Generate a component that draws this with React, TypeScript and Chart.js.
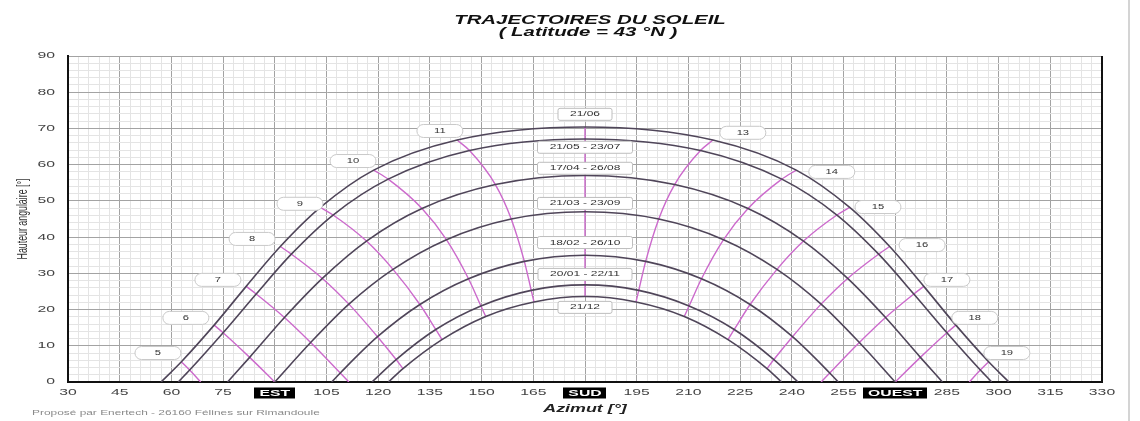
import { useEffect, useRef } from 'react';
import { Chart, registerables } from 'chart.js';

Chart.register(...registerables);

// Solar hours (true solar time) at which the sun positions are tabulated.
const HOURS = [5, 6, 7, 8, 9, 10, 11, 12, 13, 14, 15, 16, 17, 18, 19];

// Azimuth [°] and altitude [°] of the sun at each hour, one pair per date; null = below the horizon.
const AZ_0621 = [62.9, 72.4, 81.7, 91.6, 103.2, 118.7, 142.9, 180.0, 217.1, 241.3, 256.8, 268.4, 278.3, 287.6, 297.1];
const ALT_0621 = [5.6, 15.7, 26.4, 37.4, 48.2, 58.5, 66.8, 70.4, 66.8, 58.5, 48.2, 37.4, 26.4, 15.7, 5.6];

const AZ_0521 = [65.3, 75.0, 84.6, 94.8, 106.9, 122.9, 146.5, 180.0, 213.5, 237.1, 253.1, 265.2, 275.4, 285.0, 294.7];
const ALT_0521 = [3.3, 13.6, 24.3, 35.3, 46.1, 56.0, 63.9, 67.1, 63.9, 56.0, 46.1, 35.3, 24.3, 13.6, 3.3];

const AZ_0417 = [null, 82.7, 92.8, 103.8, 116.6, 132.7, 154.0, 180.0, 206.0, 227.3, 243.4, 256.2, 267.2, 277.3, null];
const ALT_0417 = [null, 6.8, 17.8, 28.6, 38.9, 47.9, 54.5, 57.0, 54.5, 47.9, 38.9, 28.6, 17.8, 6.8, null];

const AZ_0321 = [null, 90.0, 100.4, 111.5, 124.3, 139.8, 158.6, 180.0, 201.4, 220.2, 235.7, 248.5, 259.6, 270.0, null];
const ALT_0321 = [null, 0, 10.9, 21.5, 31.1, 39.3, 45.0, 47.0, 45.0, 39.3, 31.1, 21.5, 10.9, 0, null];

const AZ_0218 = [null, null, 109.0, 119.8, 132.1, 146.2, 162.4, 180.0, 197.6, 213.8, 227.9, 240.2, 251.0, null, null];
const ALT_0218 = [null, null, 2.5, 12.5, 21.4, 28.5, 33.3, 35.0, 33.3, 28.5, 21.4, 12.5, 2.5, null, null];

const AZ_0120 = [null, null, null, 125.2, 136.7, 149.8, 164.4, 180.0, 195.6, 210.2, 223.3, 234.8, null, null, null];
const ALT_0120 = [null, null, null, 6.2, 14.5, 21.0, 25.3, 26.8, 25.3, 21.0, 14.5, 6.2, null, null, null];

const AZ_1221 = [null, null, null, 127.2, 138.5, 151.2, 165.2, 180.0, 194.8, 208.8, 221.5, 232.8, null, null, null];
const ALT_1221 = [null, null, null, 3.7, 11.7, 18.1, 22.1, 23.6, 22.1, 18.1, 11.7, 3.7, null, null, null];

// Date captions of the seven day curves, with sunrise / sunset azimuths.
const DATE_LABELS = ['21/06', '21/05 - 23/07', '17/04 - 26/08', '21/03 - 23/09', '18/02 - 26/10', '20/01 - 22/11', '21/12'];
const RISE_AZ = [57.0, 62.0, 76.3, 90.0, 106.5, 118.2, 123.0];
const SET_AZ = [303.0, 298.0, 283.7, 270.0, 253.5, 241.8, 237.0];
const DATE_LABEL_ALT = [73.9, 64.8, 59.0, 49.3, 38.5, 29.7, 20.6];

// Azimuth where an hour line reaches the horizon below its last date curve.
const HOUR_FOOT_AZ = [68.5, null, 111.5, null, null, null, null, null, null, null, null, null, 248.5, null, 291.5];

// Hour captions and their anchor (azimuth, altitude).
const HOUR_LABELS = ['5', '6', '7', '8', '9', '10', '11', '13', '14', '15', '16', '17', '18', '19'];
const HOUR_LABEL_AZ = [56.1, 64.2, 73.5, 83.4, 97.3, 112.7, 137.9, 225.8, 251.6, 265.0, 277.8, 285.0, 293.1, 302.4];
const HOUR_LABEL_ALT = [8.0, 17.7, 28.2, 39.5, 49.2, 61.0, 69.3, 68.8, 58.0, 48.3, 37.8, 28.2, 17.7, 8.0];

// Axis tick labels.
const X_TICKS = [30, 45, 60, 75, 90, 105, 120, 135, 150, 165, 180, 195, 210, 225, 240, 255, 270, 285, 300, 315, 330];
const X_TICK_TEXT = ['30', '45', '60', '75', 'EST', '105', '120', '135', '150', '165', 'SUD', '195', '210', '225', '240', '255', 'OUEST', '285', '300', '315', '330'];
const COMPASS_TICKS = ['EST', 'SUD', 'OUEST'];
const Y_TICKS = [0, 10, 20, 30, 40, 50, 60, 70, 80, 90];

const AZ_ROWS = [AZ_0621, AZ_0521, AZ_0417, AZ_0321, AZ_0218, AZ_0120, AZ_1221];
const ALT_ROWS = [ALT_0621, ALT_0521, ALT_0417, ALT_0321, ALT_0218, ALT_0120, ALT_1221];

const CURVE_COLOR = '#4f4559';
const HOUR_COLOR = '#cc6acc';
const MAJOR_GRID = '#a3a3a3';
const MINOR_GRID = '#e4e4e4';
const FONT = '"Liberation Sans", Arial, sans-serif';
const STRETCH = 1.7;

type Pt = { x: number; y: number };

function dayCurve(d: number): Pt[] {
  const pts: Pt[] = [{ x: RISE_AZ[d], y: 0 }];
  AZ_ROWS[d].forEach((az, i) => {
    const alt = ALT_ROWS[d][i];
    if (az == null || alt == null) return;
    if (pts.some((p) => p.x === az)) return;
    pts.push({ x: az, y: alt });
  });
  if (!pts.some((p) => p.x === SET_AZ[d])) pts.push({ x: SET_AZ[d], y: 0 });
  return pts;
}

function hourLine(i: number): Pt[] {
  const pts: Pt[] = [];
  AZ_ROWS.forEach((row, d) => {
    const az = row[i];
    const alt = ALT_ROWS[d][i];
    if (az != null && alt != null) pts.push({ x: az, y: alt });
  });
  const foot = HOUR_FOOT_AZ[i];
  if (foot != null) pts.push({ x: foot, y: 0 });
  return pts.sort((a, b) => a.x - b.x);
}

function stretchedText(
  ctx: CanvasRenderingContext2D,
  text: string,
  x: number,
  y: number,
  font: string,
  color: string,
  align: CanvasTextAlign = 'center',
  sx = STRETCH
) {
  ctx.save();
  ctx.font = font;
  ctx.fillStyle = color;
  ctx.textAlign = align;
  ctx.textBaseline = 'middle';
  ctx.translate(x, y);
  ctx.scale(sx, 1);
  ctx.fillText(text, 0, 0);
  ctx.restore();
}

function textWidth(ctx: CanvasRenderingContext2D, text: string, font: string, sx = STRETCH) {
  ctx.save();
  ctx.font = font;
  const w = ctx.measureText(text).width * sx;
  ctx.restore();
  return w;
}

const sunPathDecor = {
  id: 'sunPathDecor',
  afterDatasetsDraw(chart: any) {
    const { ctx, chartArea: a, scales } = chart;
    const xs = scales.x;
    const ys = scales.y;

    // right frame of the plot
    ctx.save();
    ctx.strokeStyle = '#111';
    ctx.lineWidth = 2;
    ctx.beginPath();
    ctx.moveTo(a.right, a.top);
    ctx.lineTo(a.right, a.bottom);
    ctx.stroke();
    ctx.restore();

    // hour captions in rounded pills
    const pillFont = `7px ${FONT}`;
    HOUR_LABELS.forEach((txt, i) => {
      const cx = xs.getPixelForValue(HOUR_LABEL_AZ[i]);
      const cy = ys.getPixelForValue(HOUR_LABEL_ALT[i]);
      const w = 46;
      const h = 13;
      ctx.save();
      ctx.beginPath();
      ctx.roundRect(cx - w / 2, cy - h / 2, w, h, h / 2);
      ctx.fillStyle = '#ffffff';
      ctx.fill();
      ctx.strokeStyle = '#c9c9c9';
      ctx.lineWidth = 1;
      ctx.stroke();
      ctx.restore();
      stretchedText(ctx, txt, cx, cy, pillFont, '#333', 'center', 1.6);
    });

    // date captions in boxes along the south meridian
    const dateFont = `7.5px ${FONT}`;
    DATE_LABELS.forEach((txt, d) => {
      const cx = xs.getPixelForValue(180);
      const cy = ys.getPixelForValue(DATE_LABEL_ALT[d]);
      const w = Math.round(textWidth(ctx, txt, dateFont, 1.6) + 24);
      const h = 12;
      ctx.save();
      ctx.beginPath();
      ctx.roundRect(cx - w / 2, cy - h / 2, w, h, 2);
      ctx.fillStyle = '#ffffff';
      ctx.fill();
      ctx.strokeStyle = '#bdbdbd';
      ctx.lineWidth = 1;
      ctx.stroke();
      ctx.restore();
      stretchedText(ctx, txt, cx, cy, dateFont, '#333', 'center', 1.6);
    });
  },
  afterDraw(chart: any) {
    const { ctx, chartArea: a, scales } = chart;
    const xs = scales.x;
    const ys = scales.y;
    const tickFont = `9px ${FONT}`;

    // y tick labels
    Y_TICKS.forEach((v) => {
      stretchedText(ctx, String(v), a.left - 13, ys.getPixelForValue(v), tickFont, '#444', 'right', 1.75);
    });

    // x tick labels, compass points on black plates
    X_TICKS.forEach((v, i) => {
      const txt = X_TICK_TEXT[i];
      const cx = xs.getPixelForValue(v);
      const cy = a.bottom + 11;
      if (COMPASS_TICKS.includes(txt)) {
        const f = `bold 9px ${FONT}`;
        const w = textWidth(ctx, txt, f, 1.75) + 10;
        ctx.save();
        ctx.fillStyle = '#000';
        ctx.fillRect(Math.round(cx - w / 2), cy - 5.5, Math.round(w), 11);
        ctx.restore();
        stretchedText(ctx, txt, cx, cy + 0.5, f, '#fff', 'center', 1.75);
      } else {
        stretchedText(ctx, txt, cx, cy, tickFont, '#444', 'center', 1.75);
      }
    });

    // titles
    const titleFont = `italic bold 12px ${FONT}`;
    stretchedText(ctx, 'TRAJECTOIRES DU SOLEIL', 590, 21, titleFont, '#111');
    stretchedText(ctx, '( Latitude = 43 °N )', 588, 33, titleFont, '#111');

    // axis titles
    stretchedText(ctx, 'Azimut [°]', (a.left + a.right) / 2, 409, `italic bold 10.5px ${FONT}`, '#222');
    ctx.save();
    ctx.font = `8.8px ${FONT}`;
    ctx.fillStyle = '#333';
    ctx.textAlign = 'center';
    ctx.textBaseline = 'middle';
    ctx.translate(23, (a.top + a.bottom) / 2);
    ctx.rotate(-Math.PI / 2);
    ctx.scale(1, 1.6);
    ctx.fillText('Hauteur angulaire [°]', 0, 0);
    ctx.restore();

    // credit line
    stretchedText(ctx, 'Proposé par Enertech - 26160 Félines sur Rimandoule', 32, 413, `7px ${FONT}`, '#8a8a8a', 'left', 1.7);

    // page edge on the right
    ctx.save();
    ctx.fillStyle = '#d4d4d4';
    ctx.fillRect(1128, 0, 2, chart.height);
    ctx.restore();
  },
};

export default function App() {
  const canvasRef = useRef<HTMLCanvasElement | null>(null);

  useEffect(() => {
    const canvas = canvasRef.current;
    if (!canvas) return;

    const dayDatasets = AZ_ROWS.map((_, d) => ({
      label: DATE_LABELS[d],
      data: dayCurve(d),
      borderColor: CURVE_COLOR,
      borderWidth: 1.6,
      pointRadius: 0,
      fill: false,
      cubicInterpolationMode: 'monotone' as const,
    }));

    const hourDatasets = HOURS.map((h, i) => ({
      label: `${h} h`,
      data: hourLine(i),
      borderColor: HOUR_COLOR,
      borderWidth: 1.4,
      pointRadius: 0,
      fill: false,
      tension: 0,
      cubicInterpolationMode: (h === 12 ? 'default' : 'monotone') as any,
    }));

    const chart = new Chart(canvas, {
      type: 'line',
      data: { datasets: [...dayDatasets, ...hourDatasets] as any },
      options: {
        animation: false,
        responsive: false,
        maintainAspectRatio: false,
        layout: { padding: { left: 68, right: 38, top: 56, bottom: 39 } },
        plugins: {
          legend: { display: false },
          tooltip: { enabled: false },
          title: { display: false },
        },
        scales: {
          x: {
            type: 'linear',
            min: 30,
            max: 330,
            ticks: { stepSize: 3, display: false },
            grid: {
              drawTicks: false,
              lineWidth: 1,
              color: (c: any) => (c.tick && c.tick.value % 15 === 0 ? MAJOR_GRID : MINOR_GRID),
            },
            border: { color: '#111', width: 2 },
          },
          y: {
            type: 'linear',
            min: 0,
            max: 90,
            ticks: { stepSize: 2, display: false },
            grid: {
              drawTicks: false,
              lineWidth: 1,
              color: (c: any) => (c.tick && c.tick.value % 10 === 0 ? MAJOR_GRID : MINOR_GRID),
            },
            border: { color: '#111', width: 2 },
          },
        },
      },
      plugins: [sunPathDecor],
    });

    return () => chart.destroy();
  }, []);

  return (
    <div style={{ position: 'absolute', left: 0, top: 0, width: 1140, height: 421, background: '#ffffff' }}>
      <canvas ref={canvasRef} width={1140} height={421} style={{ display: 'block' }} />
    </div>
  );
}
